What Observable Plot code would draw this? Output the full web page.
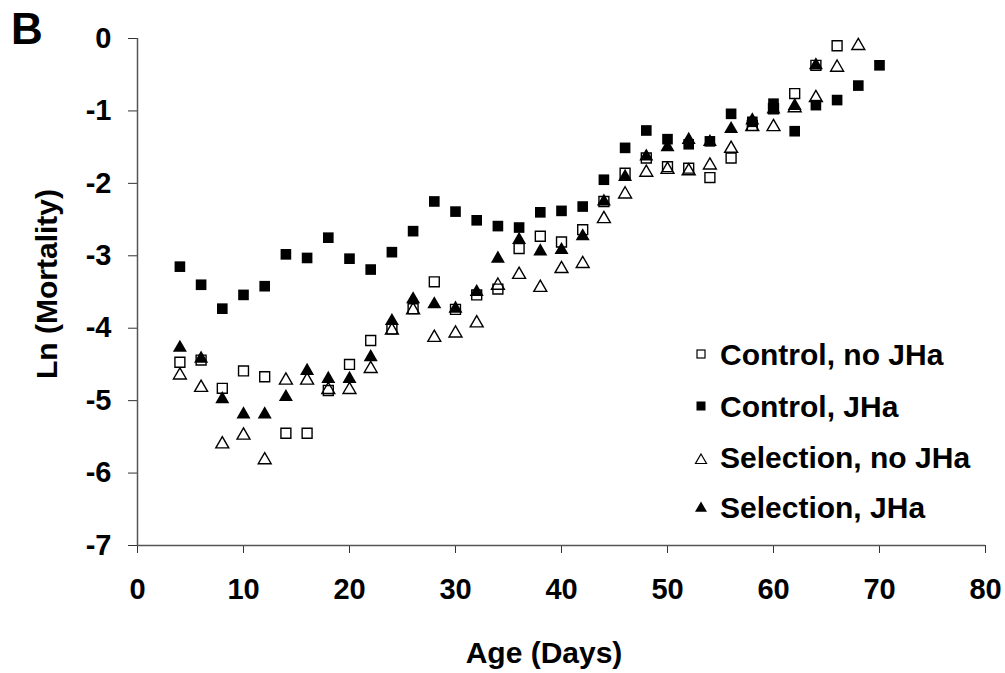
<!DOCTYPE html>
<html>
<head>
<meta charset="utf-8">
<script src="https://cdn.jsdelivr.net/npm/d3@7"></script>
<script src="https://cdn.jsdelivr.net/npm/@observablehq/plot@0.6"></script>
<style>
  html, body { margin: 0; padding: 0; background: #fff; }
  #wrap { position: relative; width: 1005px; height: 673px; }
  #wrap > svg { position: absolute; left: 0; top: 0; }
</style>
</head>
<body>
<div id="wrap"></div>
<script>
// ---- data ----
const ctrlNoJHaDays = [4,6,8,10,12,14,16,18,20,22,24,26,28,30,32,34,36,38,40,42,44,46,48,50,52,54,56,58,60,62,64,66];
const ctrlNoJHa = [-4.47,-4.44,-4.83,-4.59,-4.67,-5.45,-5.45,-4.86,-4.50,-4.17,-4.01,-3.73,-3.36,-3.74,-3.54,-3.46,-2.90,-2.73,-2.81,-2.64,-2.25,-1.86,-1.65,-1.77,-1.79,-1.92,-1.65,-1.20,-0.97,-0.76,-0.37,-0.10];

const ctrlJHaDays = [4,6,8,10,12,14,16,18,20,22,24,26,28,30,32,34,36,38,40,42,44,46,48,50,52,54,56,58,60,62,64,66,68,70];
const ctrlJHa = [-3.15,-3.40,-3.73,-3.54,-3.42,-2.98,-3.03,-2.75,-3.04,-3.19,-2.95,-2.66,-2.25,-2.39,-2.51,-2.59,-2.61,-2.40,-2.38,-2.32,-1.95,-1.51,-1.27,-1.39,-1.46,-1.42,-1.04,-1.15,-0.90,-1.28,-0.92,-0.85,-0.65,-0.37];

const selNoJHaDays = [4,6,8,10,12,14,16,18,20,22,24,26,28,30,32,34,36,38,40,42,44,46,48,50,52,54,56,58,60,62,64,66,68];
const selNoJHa = [-4.65,-4.82,-5.60,-5.48,-5.82,-4.72,-4.72,-4.85,-4.85,-4.56,-4.03,-3.75,-4.13,-4.07,-3.93,-3.41,-3.26,-3.44,-3.18,-3.11,-2.49,-2.15,-1.85,-1.81,-1.83,-1.75,-1.52,-1.22,-1.22,-0.96,-0.82,-0.40,-0.10];

const selJHaDays = [4,6,8,10,12,14,16,18,20,22,24,26,28,30,32,34,36,38,40,42,44,46,48,50,52,54,56,58,60,62,64];
const selJHa = [-4.27,-4.42,-4.98,-5.19,-5.19,-4.95,-4.59,-4.70,-4.70,-4.40,-3.90,-3.60,-3.67,-3.73,-3.50,-3.04,-2.78,-2.94,-2.92,-2.73,-2.25,-1.91,-1.63,-1.50,-1.40,-1.43,-1.25,-1.13,-0.98,-0.93,-0.37];

const seriesNames = ["Control, no JHa", "Control, JHa", "Selection, no JHa", "Selection, JHa"];
const xTicks = [0,10,20,30,40,50,60,70,80];
const yTicks = [0,-1,-2,-3,-4,-5,-6,-7];
const panelLabel = "B";
const xLabel = "Age (Days)";
const yLabel = "Ln (Mortality)";

const toRows = (days, vals, name) => days.map((d, i) => ({day: d, value: vals[i], series: name}));
const dCtrlNo = toRows(ctrlNoJHaDays, ctrlNoJHa, seriesNames[0]);
const dCtrl = toRows(ctrlJHaDays, ctrlJHa, seriesNames[1]);
const dSelNo = toRows(selNoJHaDays, selNoJHa, seriesNames[2]);
const dSel = toRows(selJHaDays, selJHa, seriesNames[3]);

const FONT = "'Liberation Sans', Arial, Helvetica, sans-serif";

const chart = Plot.plot({
  width: 1005,
  height: 673,
  marginLeft: 137,
  marginRight: 20,
  marginTop: 38,
  marginBottom: 128,
  style: {fontFamily: FONT, fontSize: "29px", fontWeight: "bold", color: "#000", background: "#fff", overflow: "visible"},
  x: {domain: [0, 80]},
  y: {domain: [-7, 0]},
  marks: [
    Plot.axisX(xTicks, {tickSize: 8, tickPadding: 25, label: null, tickFormat: d => String(d), stroke: "#333", fontSize: 29}),
    Plot.axisY(yTicks, {tickSize: 9, tickPadding: 17, label: null, tickFormat: d => String(d), stroke: "#333", fontSize: 29}),
    Plot.ruleX([0], {stroke: "#555", strokeWidth: 1.5}),
    Plot.ruleY([-7], {stroke: "#555", strokeWidth: 1.5}),
    Plot.dot(dCtrlNo, {x: "day", y: "value", symbol: "square", r: 5.6, fill: "white", stroke: "#000", strokeWidth: 1.4}),
    Plot.dot(dCtrl, {x: "day", y: "value", symbol: "square", r: 6, fill: "#000", stroke: "none"}),
    Plot.dot(dSelNo, {x: "day", y: "value", symbol: "triangle", r: 4.8, fill: "none", stroke: "#000", strokeWidth: 1.4}),
    Plot.dot(dSel, {x: "day", y: "value", symbol: "triangle", r: 5.2, fill: "#000", stroke: "none"})
  ]
});

const wrap = document.getElementById("wrap");
wrap.appendChild(chart);

// overlay: panel letter, axis titles, legend
const NS = "http://www.w3.org/2000/svg";
const ov = document.createElementNS(NS, "svg");
ov.setAttribute("width", 1005);
ov.setAttribute("height", 673);
ov.style.pointerEvents = "none";
ov.setAttribute("font-family", FONT);
ov.setAttribute("font-weight", "bold");
wrap.appendChild(ov);

function txt(s, attrs) {
  const t = document.createElementNS(NS, "text");
  t.textContent = s;
  for (const k in attrs) t.setAttribute(k, attrs[k]);
  ov.appendChild(t);
  return t;
}
function el(tag, attrs) {
  const e = document.createElementNS(NS, tag);
  for (const k in attrs) e.setAttribute(k, attrs[k]);
  ov.appendChild(e);
  return e;
}

txt(panelLabel, {x: 11, y: 43.5, "font-size": 44});
txt(xLabel, {x: 544, y: 663, "font-size": 30, "text-anchor": "middle"});
txt(yLabel, {x: 0, y: 0, "font-size": 30, "text-anchor": "middle", transform: "translate(57,284) rotate(-90)"});

const legendBaselines = [365, 417, 468, 518];
const legendCentersY = [354, 406, 459, 507];
const lx = 701;
legendBaselines.forEach((b, i) => {
  txt(seriesNames[i], {x: 720, y: b, "font-size": 30});
});
el("rect", {x: lx - 4, y: legendCentersY[0] - 4, width: 8, height: 8, fill: "white", stroke: "#000", "stroke-width": 1.2});
el("rect", {x: lx - 4.5, y: legendCentersY[1] - 4.5, width: 9, height: 9, fill: "#000"});
el("path", {d: `M${lx},${legendCentersY[2] - 5} L${lx + 5.5},${legendCentersY[2] + 4.5} L${lx - 5.5},${legendCentersY[2] + 4.5} Z`, fill: "none", stroke: "#000", "stroke-width": 1.2});
el("path", {d: `M${lx},${legendCentersY[3] - 5.5} L${lx + 6},${legendCentersY[3] + 4.8} L${lx - 6},${legendCentersY[3] + 4.8} Z`, fill: "#000"});
</script>
</body>
</html>
